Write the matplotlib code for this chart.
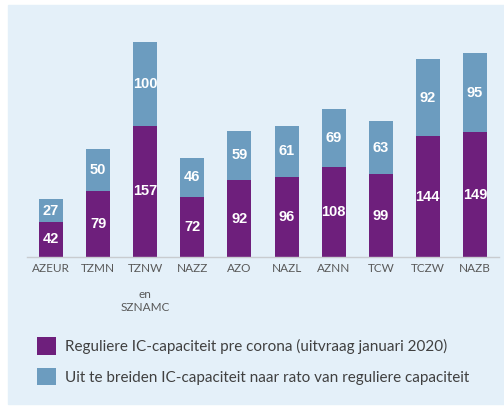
import matplotlib.pyplot as plt
from matplotlib.patches import Rectangle

regions = ['AZEUR', 'TZMN', 'TZNW\n\nen\nSZNAMC', 'NAZZ', 'AZO', 'NAZL', 'AZNN', 'TCW', 'TCZW', 'NAZB']
regulier = [42, 79, 157, 72, 92, 96, 108, 99, 144, 149]
uitbreiding = [27, 50, 100, 46, 59, 61, 69, 63, 92, 95]
labels = ['Reguliere IC-capaciteit pre corona (uitvraag januari 2020)',
          'Uit te breiden IC-capaciteit naar rato van reguliere capaciteit']

purple = '#6e1f7c'
blue = '#6c9cbf'
bg = '#e4f0f9'

fig = plt.figure(figsize=(5.04, 4.08), dpi=100)
fig.patches.append(Rectangle((8 / 504, 4 / 408), 496 / 504, 399 / 408,
                             transform=fig.transFigure, color=bg, zorder=-1))

ax = fig.add_axes([27.5 / 504, 151 / 408, 471 / 504, 217.6 / 408])
ax.set_facecolor('none')
x = list(range(len(regions)))
b1 = ax.bar(x, regulier, width=0.51, color=purple, label=labels[0])
b2 = ax.bar(x, uitbreiding, width=0.51, bottom=regulier, color=blue, label=labels[1])

for i in x:
    ax.text(i, regulier[i] / 2, str(regulier[i]), ha='center', va='center',
            color='white', fontsize=10.5, fontweight='bold', family='Liberation Sans')
    ax.text(i, regulier[i] + uitbreiding[i] / 2, str(uitbreiding[i]), ha='center', va='center',
            color='white', fontsize=10.5, fontweight='bold', family='Liberation Sans')

ax.set_xlim(-0.5, 9.5)
ax.set_ylim(0, 260)
ax.set_yticks([])
ax.set_xticks(x)
ax.set_xticklabels(regions, fontsize=8.5, color='#595959', family='Lato', linespacing=1.25, va='top')
ax.tick_params(axis='x', length=0, pad=4)
for s in ['top', 'right', 'left']:
    ax.spines[s].set_visible(False)
ax.spines['bottom'].set_color('#c8ccd0')
ax.spines['bottom'].set_linewidth(1)

fig.legend(handles=[b1, b2], loc='upper left', bbox_to_anchor=(37 / 504, 1 - 337 / 408),
           frameon=False, prop={'family': 'Lato', 'size': 11},
           labelcolor='#404040', handlelength=1.22, handleheight=1.4,
           handletextpad=0.6, labelspacing=0.85, borderpad=0, borderaxespad=0)

fig.savefig('out.png', dpi=100)
